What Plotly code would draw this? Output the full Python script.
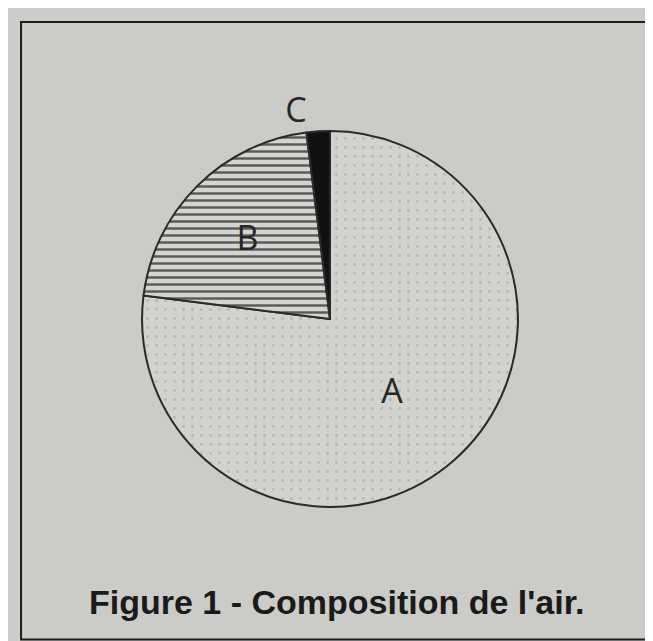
import plotly.graph_objects as go

labels = ["A", "B", "C"]
values = [77, 21, 2]
positions = ["inside", "inside", "outside"]

fig = go.Figure()
fig.add_trace(go.Pie(
    labels=labels, values=values, sort=False, direction="clockwise", rotation=0,
    textinfo="label", textposition=positions, insidetextorientation="horizontal",
    textfont=dict(family="Open Sans, DejaVu Sans", size=34, color="#262626"),
    marker=dict(
        colors=["#d2d2ce", "#d0d0cc", "#111111"],
        line=dict(color="#2a2a2a", width=2),
        pattern=dict(shape=[".", "-", ""], fgcolor=["#b8b8b4", "#5a5a5a", "#111111"],
                     bgcolor=["#d2d2ce", "#d4d4d0", "#111111"],
                     size=[9, 7, 8], solidity=[0.08, 0.35, 0.3]),
    ),
    domain=dict(x=[0.2052, 0.781], y=[0.2216, 0.808]),
    showlegend=False, hoverinfo="label+value",
))

fig.add_shape(type="rect", xref="paper", yref="paper", x0=0.02, x1=0.985, y0=0.015, y1=0.978,
              line=dict(color="#1c1c1c", width=2))
fig.add_annotation(text="<b>Figure 1 - Composition de l'air.</b>", xref="paper", yref="paper",
                   x=0.503, y=0.04, showarrow=False,
                   font=dict(family="Liberation Sans, Arial", size=34, color="#1a1a1a"))

fig.update_layout(width=653, height=641, margin=dict(l=0, r=0, t=0, b=0),
                  paper_bgcolor="#cbcbc7", plot_bgcolor="#cbcbc7")
fig.write_html("out.html")
